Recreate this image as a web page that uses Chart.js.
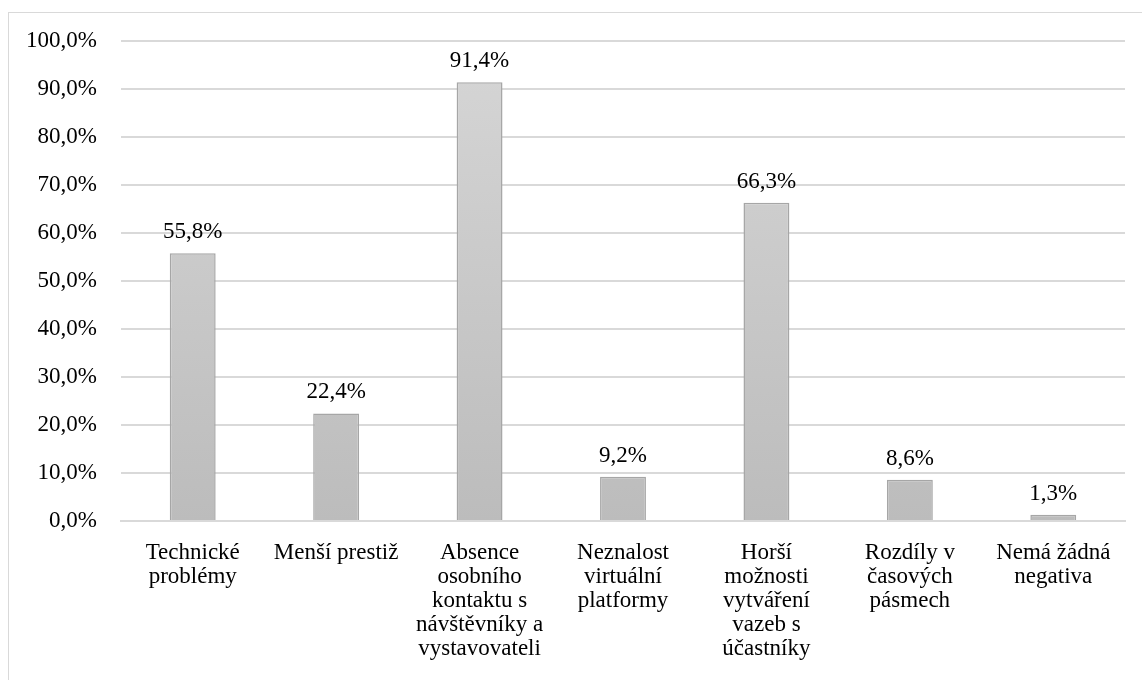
<!DOCTYPE html>
<html>
<head>
<meta charset="utf-8">
<script src="https://cdn.jsdelivr.net/npm/chart.js@4.4.1/dist/chart.umd.min.js"></script>
<style>
  html, body { margin: 0; padding: 0; background: #fff; overflow: hidden; }
  #ramecek { position: absolute; left: 8px; top: 12px; width: 1140px; height: 700px; border: 1px solid #d9d9d9; box-sizing: border-box; }
  #obal { position: absolute; left: 0; top: 0; width: 1142px; height: 680px; }
</style>
</head>
<body>
<div id="ramecek"></div>
<div id="obal"><canvas id="graf"></canvas></div>
<script>
// Kategorie (víceřádkové popisky osy X)
const kategorie = [
  ['Technické', 'problémy'],
  ['Menší prestiž'],
  ['Absence', 'osobního', 'kontaktu s', 'návštěvníky a', 'vystavovateli'],
  ['Neznalost', 'virtuální', 'platformy'],
  ['Horší', 'možnosti', 'vytváření', 'vazeb s', 'účastníky'],
  ['Rozdíly v', 'časových', 'pásmech'],
  ['Nemá žádná', 'negativa']
];

// Hodnoty v procentech
const hodnoty = [55.8, 22.4, 91.4, 9.2, 66.3, 8.6, 1.3];

// Popisky hodnot nad sloupci
const popiskyHodnot = ['55,8%', '22,4%', '91,4%', '9,2%', '66,3%', '8,6%', '1,3%'];

const pismo = '"Liberation Serif", "Times New Roman", serif';

// Popisky nad sloupci
const popiskyPlugin = {
  id: 'popisky',
  afterDatasetsDraw(chart) {
    const ctx = chart.ctx;
    const meta = chart.getDatasetMeta(0);
    ctx.save();
    ctx.font = '23px ' + pismo;
    ctx.fillStyle = '#000';
    ctx.textAlign = 'center';
    ctx.textBaseline = 'alphabetic';
    meta.data.forEach((bar, i) => {
      ctx.fillText(popiskyHodnot[i], bar.x, bar.y - 15);
    });
    ctx.restore();
  }
};

function prechod(context) {
  const chart = context.chart;
  const area = chart.chartArea;
  if (!area) return '#c8c8c8';
  const g = chart.ctx.createLinearGradient(0, area.top, 0, area.bottom);
  g.addColorStop(0, '#d6d6d6');
  g.addColorStop(1, '#bcbcbc');
  return g;
}

const ctx = document.getElementById('graf').getContext('2d');
new Chart(ctx, {
  type: 'bar',
  data: {
    labels: kategorie,
    datasets: [{
      data: hodnoty,
      backgroundColor: prechod,
      borderColor: '#a6a6a6',
      borderWidth: 1.5,
      categoryPercentage: 1,
      barPercentage: 0.32
    }]
  },
  options: {
    responsive: true,
    maintainAspectRatio: false,
    animation: false,
    layout: {
      padding: { top: 41, right: 17, left: 0, bottom: 0 }
    },
    plugins: {
      legend: { display: false },
      tooltip: { enabled: false }
    },
    scales: {
      x: {
        grid: { display: false, drawTicks: false },
        border: { color: '#d9d9d9', width: 2 },
        ticks: {
          color: '#000',
          font: { family: pismo, size: 23, lineHeight: '24px' },
          padding: 20,
          maxRotation: 0,
          autoSkip: false
        },
        afterFit(scale) { scale.height = 159; }
      },
      y: {
        min: 0,
        max: 100,
        grid: { color: '#d9d9d9', lineWidth: 2, drawTicks: false },
        border: { display: false },
        ticks: {
          stepSize: 10,
          color: '#000',
          font: { family: pismo, size: 23 },
          padding: 24,
          callback: v => v.toFixed(1).replace('.', ',') + '%'
        },
        afterFit(scale) { scale.width = 121; }
      }
    }
  },
  plugins: [popiskyPlugin]
});
</script>
</body>
</html>
